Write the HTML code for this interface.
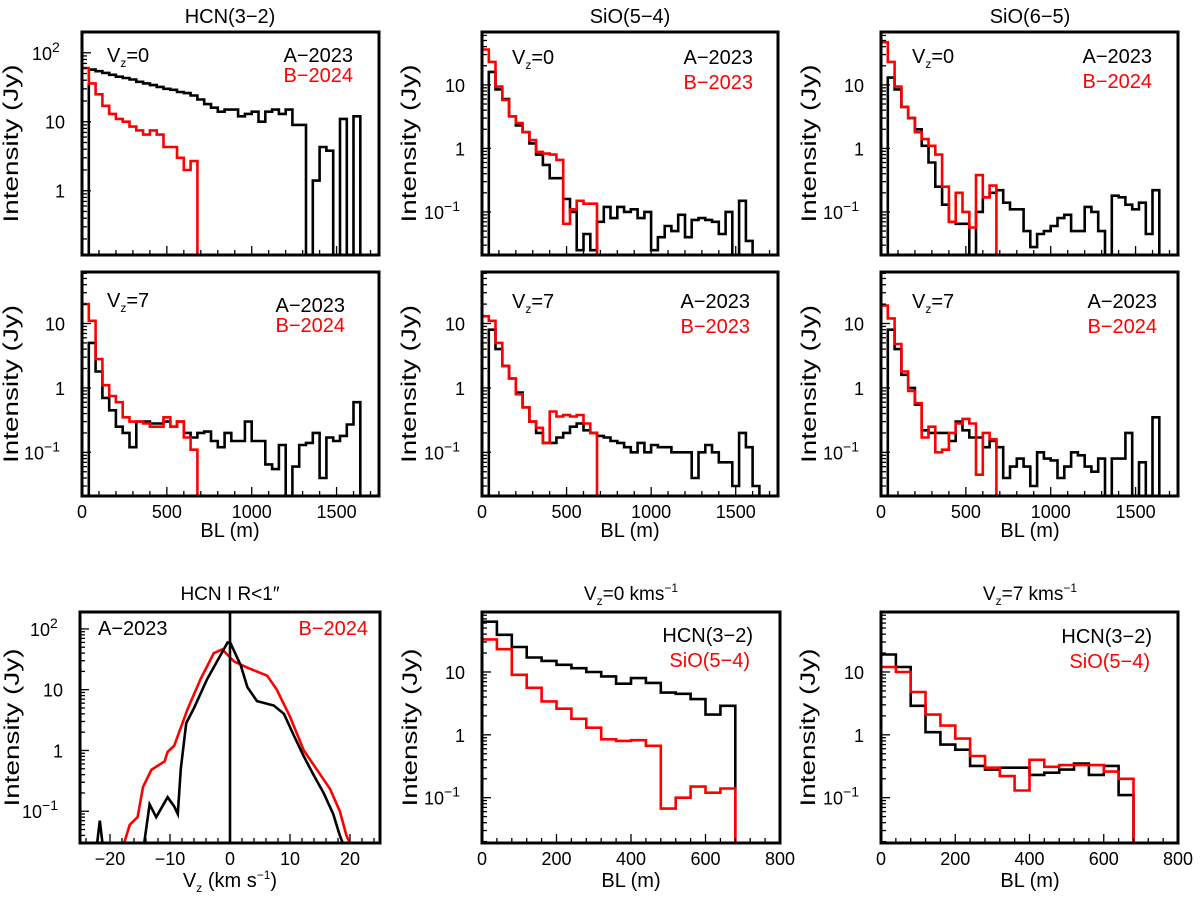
<!DOCTYPE html>
<html><head><meta charset="utf-8"><title>Intensity vs baseline</title>
<style>
html,body{margin:0;padding:0;background:#fff;}
svg{display:block;font-family:"Liberation Sans",sans-serif;}
</style></head>
<body>
<svg id="fig" xmlns="http://www.w3.org/2000/svg" width="1200" height="901" viewBox="0 0 1200 901">
<rect x="0" y="0" width="1200" height="901" fill="#fff"/>
</svg>
<script>
// ---------- data ----------
const BIN_WIDTH = 40;
// HCN(3-2), Vz=0
const hcn0A = [0,57,54,51,48,45,43,41,38,36,34,32,30,29,27,26,24,21,18,16,14,15,15,12,13,14,10,14,15,13,15,9,9,0,1.4,4.3,3.8,0,11,0,12];
const hcn0B = [60,36,25,17,13,11,10,8.5,7.5,6.5,7.5,6.5,4.3,4.3,3,2,2.7];
// SiO(5-4), Vz=0
const sio54_0A = [0,16,8.5,6,3.2,2.3,1.8,1.2,0.8,0.55,0.34,0.34,0.16,0.1,0.025,0.045,0.025,0.07,0.12,0.08,0.12,0.1,0.11,0.08,0.1,0.025,0.04,0.06,0.05,0.09,0.04,0.075,0.08,0.075,0.07,0.045,0.1,0,0.15,0.035,0];
const sio54_0B = [36,23,9.4,5.8,3.2,2.5,1.8,1.35,0.88,0.83,0.8,0.66,0.065,0.11,0.15,0.135,0.135];
// SiO(6-5), Vz=0
const sio65_0A = [0,13,8.5,4.5,3,2,1.1,0.6,0.25,0.13,0.07,0.065,0.065,0,0.1,0.17,0.2,0.22,0.14,0.11,0.11,0.05,0.028,0.045,0.05,0.06,0.08,0.09,0.05,0.05,0.12,0.1,0.05,0,0.18,0.17,0.13,0.11,0.14,0.045,0.22];
const sio65_0B = [47,23,9.4,4.5,3,1.8,1.4,1.1,0.8,0.25,0.07,0.2,0.1,0.057,0.38,0.17,0.26];
// HCN(3-2), Vz=7
const hcn7A = [0,5,1.8,0.7,0.45,0.25,0.2,0.12,0.3,0.3,0.28,0.28,0.3,0.25,0.3,0.2,0.17,0.2,0.21,0.15,0.12,0.2,0.15,0.15,0.3,0.15,0.15,0.065,0.055,0.13,0.02,0.06,0.13,0.14,0.2,0.04,0.17,0.15,0.18,0.27,0.6];
const hcn7B = [20,11,2.8,1.1,0.75,0.6,0.35,0.3,0.3,0.28,0.25,0.25,0.35,0.25,0.3,0.17,0.11];
// SiO(5-4), Vz=7
const sio54_7A = [0,8,4,2.2,1.4,0.85,0.5,0.3,0.2,0.14,0.14,0.17,0.2,0.25,0.28,0.22,0.2,0.18,0.17,0.15,0.14,0.12,0.1,0.14,0.1,0.13,0.12,0.12,0.1,0.1,0.1,0.04,0.1,0.13,0.1,0.07,0.07,0.03,0.2,0.12,0.03];
const sio54_7B = [13,11,5,2.2,1.4,0.8,0.5,0.3,0.24,0.14,0.43,0.36,0.38,0.36,0.38,0.28,0.2];
// SiO(6-5), Vz=7
const sio65_7A = [0,8,4,1.6,1,0.55,0.22,0.2,0.2,0.2,0.15,0.3,0.22,0.17,0.17,0.12,0.15,0.12,0.04,0.06,0.08,0.06,0.03,0.1,0.08,0.075,0.04,0.06,0.1,0.09,0.06,0.05,0.08,0,0.08,0.08,0.2,0,0.07,0,0.35];
const sio65_7B = [19,12,4.8,1.8,0.9,0.58,0.17,0.25,0.1,0.11,0.2,0.28,0.33,0.28,0.045,0.2,0.16];
// Bottom: Vz=0 and Vz=7 comparisons
const bl0HCN = [63,39,25,17,15,13,11.5,10,8.5,6.5,8,6.7,4.7,4.5,3.7,2.1,2.9];
const bl0SiO = [33,23,9,5.6,3.4,2.6,1.8,1.3,0.85,0.8,0.82,0.67,0.067,0.1,0.15,0.12,0.14];
const bl7HCN = [19,12,2.9,1.1,0.7,0.58,0.32,0.28,0.3,0.3,0.23,0.25,0.28,0.35,0.23,0.32,0.11];
const bl7SiO = [12,10,4.8,2.1,1.4,0.87,0.46,0.3,0.22,0.13,0.4,0.31,0.33,0.33,0.33,0.26,0.2];
// Spectrum HCN R<1"
const specVelA = [-22.2,-21.7,-21.2,-14.3,-13.4,-12.3,-10.4,-9.3,-8.7,-8.2,-7.3,-6,-3.8,-2.1,-0.4,0.1,1.8,2.9,4.5,7.3,9,10.6,12.3,13.9,15.6,17.2,18.3,19];
const specValA = [0.02,0.07,0.02,0.03,0.13,0.08,0.17,0.12,0.09,0.5,2.8,5,15,30,60,58,25,11,6.5,5.5,4,1.8,0.8,0.4,0.2,0.09,0.04,0.02];
const specVelB = [-17.8,-16.7,-15.4,-14.5,-13.1,-10.9,-10.4,-9.3,-7.1,-4.9,-2.7,-1.3,0.7,2.9,6.2,7.8,10,12.3,14.5,16.7,18.3,19.4,20.2];
const specValB = [0.02,0.06,0.08,0.25,0.48,0.66,0.95,1.2,4.7,15,40,46,29,23,17,10,3.6,1.0,0.48,0.23,0.1,0.04,0.02];

// ---------- drawing ----------
const NS = "http://www.w3.org/2000/svg";
const svg = document.getElementById("fig");
function mk(tag, attrs, parent){
  const e = document.createElementNS(NS, tag);
  for (const k in attrs) e.setAttribute(k, attrs[k]);
  (parent||svg).appendChild(e);
  return e;
}
let clipId = 0;

function panel(p){
  const g = mk("g", {});
  
  
  const L=p.l, R=p.r, T=p.t, B=p.b;
  const lmin=Math.log10(p.ymin), lmax=Math.log10(p.ymax);
  const yS = v => (v<=0 || Math.log10(v)<lmin) ? B+3 : Math.max(T-3, B-(Math.log10(v)-lmin)/(lmax-lmin)*(B-T));
  const xS = v => L + (v-p.xmin)/(p.xmax-p.xmin)*(R-L);
  const cid = "clip"+(clipId++);
  const cp = mk("clipPath", {id:cid}, g);
  mk("rect", {x:L, y:T, width:R-L, height:B-T}, cp);
  const plot = mk("g", {"clip-path":"url(#"+cid+")"}, g);

  p.series.forEach(s=>{
    let pts=[];
    if (s.hist){
      pts.push([xS(0), yS(1)]);
      s.vals.forEach((v,i)=>{ pts.push([xS(i*BIN_WIDTH), yS(v)]); pts.push([xS((i+1)*BIN_WIDTH), yS(v)]); });
      pts.push([xS(s.vals.length*BIN_WIDTH), B+3]);
    } else {
      s.xs.forEach((x,i)=>pts.push([xS(x), yS(s.vals[i])]));
    }
    const pl = mk("polyline", {points: pts.map(q=>q[0].toFixed(1)+","+q[1].toFixed(1)).join(" "), fill:"none", stroke:s.color, "stroke-width":2.6, "stroke-linejoin":"miter"}, plot);
    
    
  });
  if (p.zeroLine){
    const zl = mk("line", {x1:xS(0), x2:xS(0), y1:T, y2:B, stroke:"#000", "stroke-width":2.6}, g);
    
    
  }
  for (let d=Math.floor(lmin); d<=Math.ceil(lmax); d++){
    for (let m=1; m<10; m++){
      const v=m*Math.pow(10,d); const lv=Math.log10(v);
      if (lv<lmin || lv>lmax) continue;
      const y=B-(lv-lmin)/(lmax-lmin)*(B-T);
      mk("line",{x1:L, x2:L+(m===1?9:5), y1:y, y2:y, stroke:"#000","stroke-width":1.3}, g);
      if (m===1 && p.ylabels.includes(d)){
        const t = mk("text",{x:L-17, y:y+7, "font-size":18, "text-anchor":"end", fill:"#000"}, g);
        
        
        if (d===0) t.textContent="1";
        else if (d===1) t.textContent="10";
        else {
          t.setAttribute("text-anchor","start");
          t.setAttribute("x", L-(d<0?58:50));
          t.textContent="10";
          const s=mk("tspan",{dy:-8,"font-size":14},t); s.textContent=(d<0?"\u2212":"")+Math.abs(d);
        }
      }
    }
  }
  const i0=Math.ceil(p.xmin/p.xminor-1e-9), i1=Math.floor(p.xmax/p.xminor+1e-9);
  for (let i=i0; i<=i1; i++){
    const v=i*p.xminor;
    const isMaj = Math.abs(v/p.xmajor-Math.round(v/p.xmajor))<1e-6;
    const x=xS(v);
    mk("line",{x1:x,x2:x,y1:B,y2:B-(isMaj?9:5),stroke:"#000","stroke-width":1.3}, g);
    if (isMaj && p.xlabels){
      const t=mk("text",{x:x, y:B+22, "font-size":18, "text-anchor":"middle"}, g);
      
      
      t.textContent=(v<0?"\u2212":"")+Math.abs(Math.round(v));
    }
  }
  const fr = mk("rect",{x:L,y:T,width:R-L,height:B-T,fill:"none",stroke:"#000","stroke-width":3}, g);
  
  
  const yt = mk("text",{x:0,y:0,"font-size":21,"text-anchor":"middle",transform:"translate("+(p.ytx)+","+((T+B)/2)+") rotate(-90)",textLength:158,lengthAdjust:"spacingAndGlyphs"}, g);
  
  
  yt.textContent="Intensity (Jy)";
  p.texts.forEach(tx=>{
    const t=mk("text",{x:tx.x,y:tx.y,"font-size":tx.fs||20,"text-anchor":tx.anchor||"start",fill:tx.color||"#000"}, g);
    
    
    if (tx.sub){
      t.appendChild(document.createTextNode(tx.pre));
      const s=mk("tspan",{"font-size":12,dy:5},t); s.textContent=tx.sub;
      const r=mk("tspan",{dy:-5},t); r.textContent=tx.post;
    } else t.textContent=tx.text;
  });
}

const RED="#ff0000";
const cols=[{l:82,r:379},{l:482,r:778},{l:881,r:1178}];
const topRows=[{t:32,b:255},{t:272,b:496}];
function legend(vz, bLabel, cfg){
  return [
    {name:"vz-label", x:cfg.vx, y:cfg.vy, pre:"V", sub:"z", post:"="+vz},
    {name:"legend-a-2023", x:cfg.ax, y:cfg.ay, text:"A\u22122023", anchor:"end"},
    {name:"legend-b", x:cfg.ax, y:cfg.by, text:bLabel, anchor:"end", color:RED}
  ];
}
const ytx=[18,416,816];
const defs = [
 {name:"panel-hcn-vz0", c:0,row:0, ymin:0.117,ymax:200, yl:[0,1,2], A:hcn0A, B:hcn0B, vz:"0", bl:"B\u22122024", lg:{vx:107,vy:62,ax:353,ay:62,by:82}},
 {name:"panel-sio54-vz0", c:1,row:0, ymin:0.021,ymax:68, yl:[-1,0,1], A:sio54_0A, B:sio54_0B, vz:"0", bl:"B\u22122023", lg:{vx:512,vy:64,ax:753,ay:64,by:89}},
 {name:"panel-sio65-vz0", c:2,row:0, ymin:0.021,ymax:68, yl:[-1,0,1], A:sio65_0A, B:sio65_0B, vz:"0", bl:"B\u22122024", lg:{vx:912,vy:63,ax:1152,ay:63,by:88}},
 {name:"panel-hcn-vz7", c:0,row:1, ymin:0.021,ymax:63, yl:[-1,0,1], A:hcn7A, B:hcn7B, vz:"7", bl:"B\u22122024", lg:{vx:107,vy:307,ax:345,ay:312,by:332}},
 {name:"panel-sio54-vz7", c:1,row:1, ymin:0.021,ymax:63, yl:[-1,0,1], A:sio54_7A, B:sio54_7B, vz:"7", bl:"B\u22122023", lg:{vx:512,vy:308,ax:750,ay:308,by:333}},
 {name:"panel-sio65-vz7", c:2,row:1, ymin:0.021,ymax:63, yl:[-1,0,1], A:sio65_7A, B:sio65_7B, vz:"7", bl:"B\u22122024", lg:{vx:912,vy:308,ax:1157,ay:308,by:333}}
];
defs.forEach(d=>{
  const c=cols[d.c], r=topRows[d.row];
  panel({name:d.name,l:c.l,r:c.r,t:r.t,b:r.b,ymin:d.ymin,ymax:d.ymax,ylabels:d.yl,xmin:0,xmax:1750,xmajor:500,xminor:100,xlabels:d.row===1,ytx:ytx[d.c],
    series:[{name:"series-a-2023",hist:true,vals:d.A,color:"#000"},{name:"series-b",hist:true,vals:d.B,color:RED}],
    texts:legend(d.vz,d.bl,d.lg)});
});
panel({name:"panel-hcn-spectrum",l:80,r:380,t:612,b:843,ymin:0.03,ymax:190,ylabels:[-1,0,1,2],xmin:-25,xmax:25,xmajor:10,xminor:2,xlabels:true,ytx:19,zeroLine:true,
  series:[{name:"spectrum-b-2024",xs:specVelB,vals:specValB,color:RED},{name:"spectrum-a-2023",xs:specVelA,vals:specValA,color:"#000"}],
  texts:[{name:"legend-a-2023",x:98,y:635,text:"A\u22122023"},{name:"legend-b-2024",x:368,y:635,text:"B\u22122024",anchor:"end",color:RED}]});
panel({name:"panel-vz0-compare",l:482,r:780,t:612,b:843,ymin:0.019,ymax:90,ylabels:[-1,0,1],xmin:0,xmax:800,xmajor:200,xminor:40,xlabels:true,ytx:417,
  series:[{name:"series-hcn32",hist:true,vals:bl0HCN,color:"#000"},{name:"series-sio54",hist:true,vals:bl0SiO,color:RED}],
  texts:[{name:"legend-hcn32",x:753,y:642,text:"HCN(3\u22122)",anchor:"end"},{name:"legend-sio54",x:750,y:667,text:"SiO(5\u22124)",anchor:"end",color:RED}]});
panel({name:"panel-vz7-compare",l:881,r:1178,t:612,b:843,ymin:0.019,ymax:90,ylabels:[-1,0,1],xmin:0,xmax:800,xmajor:200,xminor:40,xlabels:true,ytx:815,
  series:[{name:"series-hcn32",hist:true,vals:bl7HCN,color:"#000"},{name:"series-sio54",hist:true,vals:bl7SiO,color:RED}],
  texts:[{name:"legend-hcn32",x:1152,y:643,text:"HCN(3\u22122)",anchor:"end"},{name:"legend-sio54",x:1150,y:668,text:"SiO(5\u22124)",anchor:"end",color:RED}]});

function txt(name,x,y,s,fs,anchor){
  const t=mk("text",{x:x,y:y,"font-size":fs||20,"text-anchor":anchor||"middle"});
  
  
  t.textContent=s; return t;
}
txt("title-hcn32",230,23,"HCN(3\u22122)");
txt("title-sio54",630,23,"SiO(5\u22124)");
txt("title-sio65",1030,23,"SiO(6\u22125)");
txt("x-axis-title",230,537,"BL (m)");
txt("x-axis-title",630,537,"BL (m)");
txt("x-axis-title",1030,537,"BL (m)");
txt("title-hcn-r1",230,600,"HCN I R<1\u2033",19);
txt("x-axis-title",631,887,"BL (m)");
txt("x-axis-title",1030,887,"BL (m)");
function subTxt(name,x,y,pre,sub,post,sup,fs){
  const t=mk("text",{x:x,y:y,"font-size":fs||20,"text-anchor":"middle"});
  
  
  t.appendChild(document.createTextNode(pre));
  const s=mk("tspan",{"font-size":12,dy:5},t); s.textContent=sub;
  const r=mk("tspan",{dy:-5},t); r.textContent=post;
  if (sup){ const u=mk("tspan",{"font-size":12,dy:-8},t); u.textContent=sup; }
  return t;
}
const vzT = subTxt("x-axis-title-vz",230,887,"V","z"," (km s","\u22121");
const cl=mk("tspan",{dy:8},vzT); cl.textContent=")";
subTxt("title-vz0",631,600,"V","z","=0 kms","\u22121",19);
subTxt("title-vz7",1030,600,"V","z","=7 kms","\u22121",19);
</script>
</body></html>
